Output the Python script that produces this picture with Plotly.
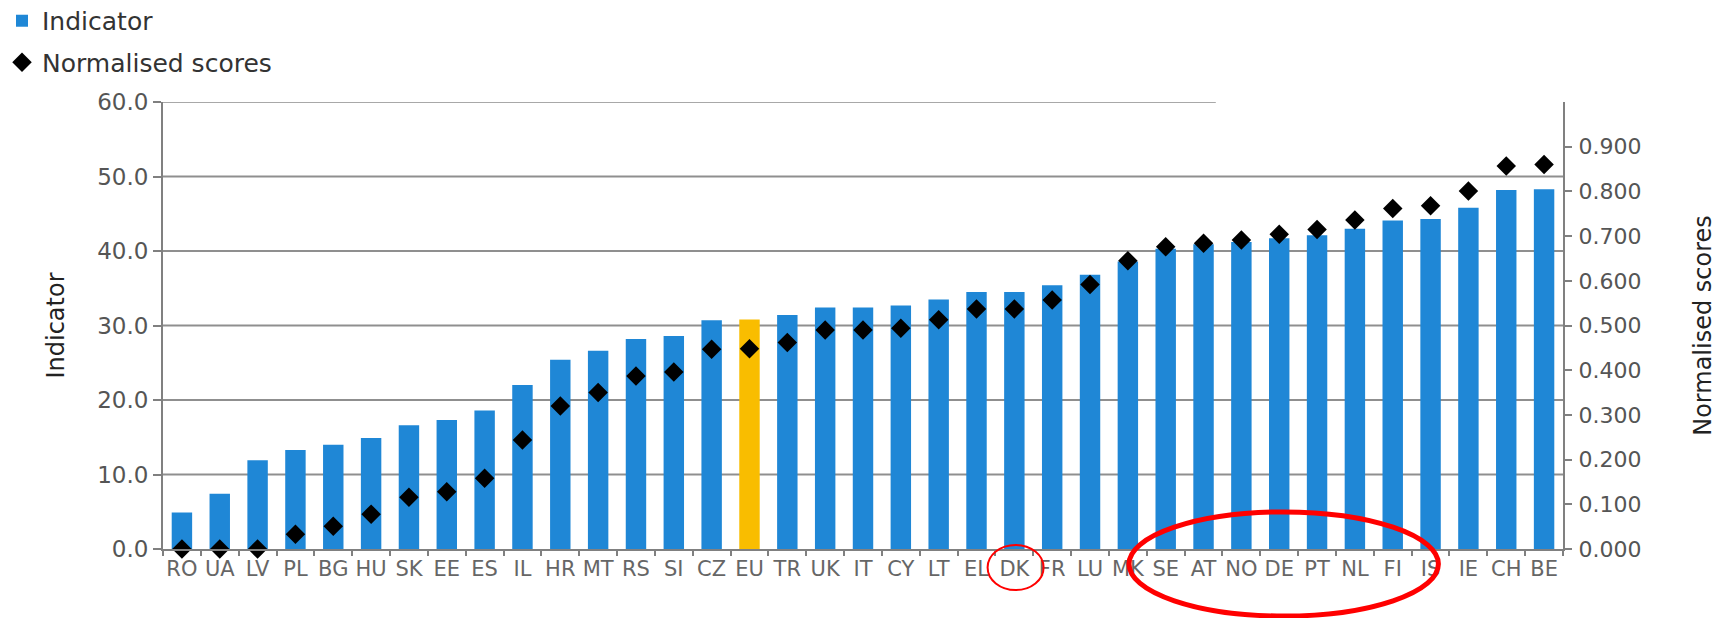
import plotly.graph_objects as go

categories = ["RO", "UA", "LV", "PL", "BG", "HU", "SK", "EE", "ES", "IL", "HR", "MT", "RS", "SI",
              "CZ", "EU", "TR", "UK", "IT", "CY", "LT", "EL", "DK", "FR", "LU", "MK", "SE", "AT",
              "NO", "DE", "PT", "NL", "FI", "IS", "IE", "CH", "BE"]
indicator = [4.9, 7.4, 11.9, 13.3, 14.0, 14.9, 16.6, 17.3, 18.6, 22.0, 25.4, 26.6, 28.2, 28.6,
             30.7, 30.8, 31.4, 32.4, 32.4, 32.7, 33.5, 34.5, 34.5, 35.4, 36.8, 38.6, 40.3, 40.9,
             41.2, 41.7, 42.1, 43.0, 44.1, 44.3, 45.8, 48.2, 48.3]
normalised = [0.0, 0.0, 0.0, 0.033, 0.051, 0.078, 0.116, 0.128, 0.158, 0.244, 0.320, 0.350, 0.387,
              0.396, 0.447, 0.448, 0.462, 0.490, 0.490, 0.494, 0.513, 0.537, 0.537, 0.557, 0.592,
              0.645, 0.676, 0.684, 0.691, 0.704, 0.715, 0.736, 0.762, 0.768, 0.801, 0.857, 0.860]
left_ticks = [0, 10, 20, 30, 40, 50, 60]
right_ticks = [0.0, 0.1, 0.2, 0.3, 0.4, 0.5, 0.6, 0.7, 0.8, 0.9]
highlight = "EU"

BLUE = "#1f87d6"
YELLOW = "#f9bd00"
AXIS = "#808080"
GRID = "#8f8f8f"
FONT = "DejaVu Sans"

bar_colors = [YELLOW if c == highlight else BLUE for c in categories]

fig = go.Figure()
fig.add_trace(go.Bar(
    x=categories, y=indicator, name="Indicator",
    marker=dict(color=bar_colors, line=dict(width=0)),
    legendgroup="a", yaxis="y",
))
fig.add_trace(go.Scatter(
    x=categories, y=normalised, name="Normalised scores", mode="markers",
    marker=dict(symbol="diamond", size=15, color="black"),
    legendgroup="b", yaxis="y2", cliponaxis=False,
))

shapes = []
for v in left_ticks[1:-1]:
    shapes.append(dict(type="line", xref="paper", yref="y", x0=0, x1=1, y0=v, y1=v,
                       line=dict(color=GRID, width=2), layer="below"))
shapes.append(dict(type="line", xref="paper", yref="y", x0=0, x1=0.752, y0=left_ticks[-1],
                   y1=left_ticks[-1], line=dict(color="#a8a8a8", width=2), layer="below"))
# red hand-drawn highlight rings
shapes.append(dict(type="circle", xref="paper", yref="paper", x0=0.589, x1=0.629, y0=-0.092, y1=0.009,
                   line=dict(color="#ff0000", width=2)))
shapes.append(dict(type="circle", xref="paper", yref="paper", x0=0.690, x1=0.911, y0=-0.150, y1=0.083,
                   line=dict(color="#ff0000", width=5)))

fig.update_layout(
    width=1719, height=618,
    margin=dict(l=163, r=156, t=102, b=69, autoexpand=False),
    plot_bgcolor="white", paper_bgcolor="white",
    bargap=0.46,
    font=dict(family=FONT, color="#555555", size=22),
    shapes=shapes,
    legend=dict(
        xref="paper", yref="paper", x=-0.1150, y=1.2327, xanchor="left", yanchor="top",
        font=dict(family=FONT, size=25, color="#333333"), tracegroupgap=6,
        itemwidth=30, bgcolor="rgba(0,0,0,0)",
    ),
    xaxis=dict(
        type="category", range=[-0.5, len(categories) - 0.5], showgrid=False, showline=True,
        linecolor=AXIS, linewidth=2,
        ticks="outside", tickson="boundaries", ticklen=5, tickcolor=AXIS, tickwidth=2,
        tickangle=0, tickfont=dict(family=FONT, size=21, color="#666666"),
        ticklabelstandoff=0,
    ),
    yaxis=dict(
        range=[0, 60], tickvals=left_ticks, tickformat=".1f", showgrid=False, zeroline=False,
        showline=True, linecolor=AXIS, linewidth=2, ticks="outside", ticklen=8,
        tickcolor=AXIS, tickwidth=2, tickfont=dict(family=FONT, size=23, color="#555555"),
        title=dict(text="Indicator", font=dict(family=FONT, size=24, color="#222222"), standoff=26),
    ),
    yaxis2=dict(
        range=[0, 1.0], tickvals=right_ticks, tickformat=".3f", overlaying="y", side="right",
        showgrid=False, zeroline=False, showline=True, linecolor=AXIS, linewidth=2,
        ticks="outside", ticklen=7, tickcolor=AXIS, tickwidth=2, ticklabelstandoff=2,
        tickfont=dict(family=FONT, size=22, color="#555555"),
        title=dict(text="Normalised scores", font=dict(family=FONT, size=24, color="#222222"), standoff=54),
    ),
)

fig.write_html("out.html", config={"displayModeBar": False},
               post_script="document.body.style.margin='0';document.body.style.padding='0';")
